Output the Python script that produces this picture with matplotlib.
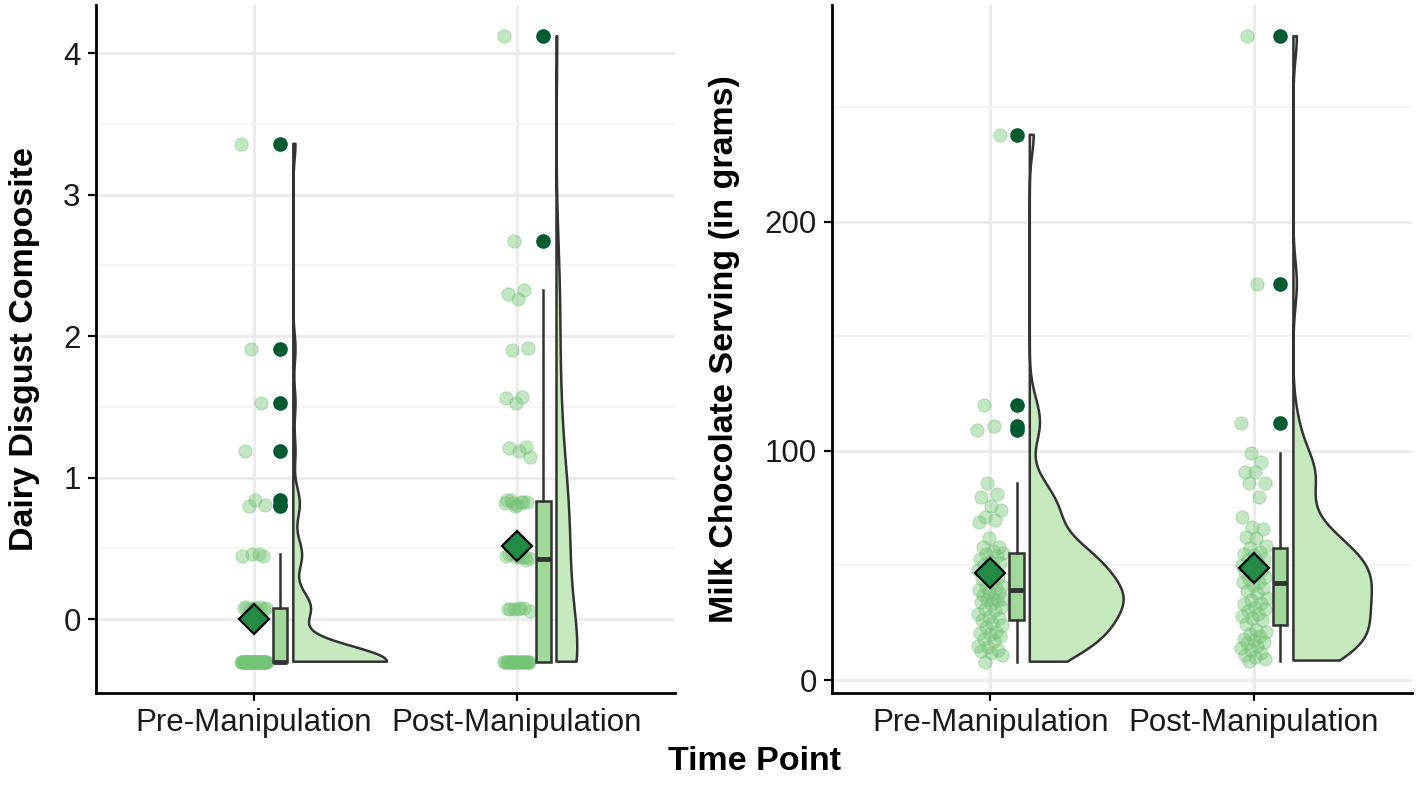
import numpy as np
import matplotlib
matplotlib.use('Agg')
import matplotlib.pyplot as plt

plt.rcParams['font.family'] = ['Liberation Sans', 'DejaVu Sans']

time_points = ['Pre-Manipulation', 'Post-Manipulation']

# Dairy disgust composite (left panel)
disgust_pre = ([-0.30] * 43
               + [0.07, 0.08, 0.08, 0.09, 0.07, 0.08, 0.08, 0.09]
               + [0.45, 0.46, 0.45, 0.46]
               + [0.80, 0.81, 0.84, 1.19, 1.53, 1.91, 3.36])
disgust_post = ([-0.30] * 23
                + [0.07, 0.07, 0.08, 0.07, 0.06, 0.08, 0.07]
                + [0.42, 0.44, 0.45, 0.44, 0.47, 0.43, 0.44, 0.46, 0.44]
                + [0.80, 0.82, 0.83, 0.84, 0.83, 0.81, 0.84, 0.83, 0.82]
                + [1.15, 1.19, 1.21, 1.22, 1.53, 1.56, 1.57, 1.90, 1.92]
                + [2.26, 2.30, 2.33, 2.67, 4.12])

# Milk chocolate serving in grams (right panel)
choc_pre = [8, 11, 12, 12.5, 13, 14.5, 15, 17, 18, 19, 20, 20.5, 21, 23, 24, 25,
            26, 27, 27.5, 29, 30.5, 31, 32, 33, 34, 35, 35, 35.5, 36, 37, 38,
            38.5, 39.5, 40, 40.5, 41, 43, 44, 45, 46, 48, 49, 50, 51, 52, 53,
            54, 55, 55.5, 56.5, 58, 58, 62, 69, 70, 71, 74, 76, 80, 81, 86,
            109, 111, 120, 238]
choc_post = [8.5, 9, 10, 11, 12, 13, 14, 15, 16, 16.5, 17.5, 18, 19, 20, 21, 22,
             24.5, 26, 27, 28, 29, 30, 31, 32, 33, 33.5, 35, 36, 38, 39, 40, 41.5,
             43, 43, 44, 45, 46, 47, 48, 49, 50, 51, 52.5, 53, 54.5, 55, 56, 57.5,
             58.5, 62, 62.5, 66, 67, 71, 80, 86, 86, 91, 91, 95, 99,
             112, 173, 281]

point_col = '#74c476'
outlier_col = '#005a32'
box_fill = '#a1d99b'
violin_fill = '#c7e9c0'
mean_col = '#238b45'
line_col = '#333333'


def kde(values, grid):
    # gaussian density with R's bw.nrd0 bandwidth
    values = np.asarray(values, dtype=float)
    n = len(values)
    q75, q25 = np.percentile(values, [75, 25])
    lo = min(values.std(ddof=1), (q75 - q25) / 1.34)
    bw = 0.9 * lo * n ** -0.2
    z = (grid[:, None] - values[None, :]) / bw
    return np.exp(-0.5 * z ** 2).sum(axis=1) / (n * bw * np.sqrt(2 * np.pi))


def raincloud(ax, groups, yticks, yminor):
    grids = [np.linspace(min(g), max(g), 512) for g in groups]
    dens = [kde(g, gr) for g, gr in zip(groups, grids)]
    top = max(d.max() for d in dens)
    for i, (g, gr, d) in enumerate(zip(groups, grids, dens)):
        pos = i + 1
        base = pos + 0.15
        xs = np.concatenate([[base], base + d / top * 0.356, [base]])
        ys = np.concatenate([[gr[0]], gr, [gr[-1]]])
        ax.fill(xs, ys, facecolor=violin_fill, edgecolor=line_col, lw=1.8,
                joinstyle='round', zorder=2)

        vals = np.asarray(g, dtype=float)
        jit = ((np.arange(len(vals)) * 0.618034 + 0.31) % 1 - 0.5) * 0.1
        ax.scatter(pos + jit, vals, s=90, color=point_col, alpha=0.42,
                   edgecolors=point_col, linewidths=0.8, zorder=3)

        ax.boxplot([vals], positions=[pos + 0.1], widths=0.055,
                   patch_artist=True, showcaps=False, manage_ticks=False,
                   boxprops=dict(facecolor=box_fill, edgecolor=line_col, lw=1.8),
                   whiskerprops=dict(color=line_col, lw=1.8),
                   medianprops=dict(color=line_col, lw=3.5),
                   flierprops=dict(marker='o', markerfacecolor=outlier_col,
                                   markeredgecolor=outlier_col, markersize=9.5),
                   zorder=4)

        ax.plot(pos, vals.mean(), marker='D', ms=15, mfc=mean_col, mec='black',
                mew=1.6, zorder=6)

    lo = min(min(g) for g in groups)
    hi = max(max(g) for g in groups)
    pad = (hi - lo) * 0.05
    ax.set_ylim(lo - pad, hi + pad)
    ax.set_xlim(0.4, 2.6)
    ax.set_xticks([1, 2])
    ax.set_xticklabels(time_points)
    ax.set_yticks(yticks)
    ax.set_yticks(yminor, minor=True)
    ax.grid(True, which='major', color='#ebebeb', lw=2.0, zorder=0)
    ax.grid(True, which='minor', axis='y', color='#f3f3f3', lw=1.2, zorder=0)
    ax.set_axisbelow(True)
    for s in ['top', 'right']:
        ax.spines[s].set_visible(False)
    for s in ['left', 'bottom']:
        ax.spines[s].set_linewidth(2.0)
        ax.spines[s].set_color('black')
    ax.tick_params(which='major', labelsize=22.5, length=6, width=1.6,
                   colors='black', labelcolor='#1a1a1a', pad=5)
    ax.tick_params(which='minor', length=0)


fig = plt.figure(figsize=(14.17, 7.99), dpi=100)
ax1 = fig.add_axes([0.0677, 0.1327, 0.4086, 0.8611])
ax2 = fig.add_axes([0.5872, 0.1327, 0.4093, 0.8611])

raincloud(ax1, [disgust_pre, disgust_post], [0, 1, 2, 3, 4], [0.5, 1.5, 2.5, 3.5])
raincloud(ax2, [choc_pre, choc_post], [0, 100, 200], [50, 150, 250])

fig.text(25 / 1417, 1 - 349 / 799, 'Dairy Disgust Composite', rotation=90,
         ha='center', va='center', fontsize=24.5, fontweight='bold')
fig.text(724 / 1417, 1 - 349 / 799, 'Milk Chocolate Serving (in grams)', rotation=90,
         ha='center', va='center', fontsize=24.5, fontweight='bold')
fig.text(754 / 1417, 1 - 762 / 799, 'Time Point', ha='center', va='center',
         fontsize=24.5, fontweight='bold')

fig.savefig('out.png', dpi=100)
plt.close(fig)
